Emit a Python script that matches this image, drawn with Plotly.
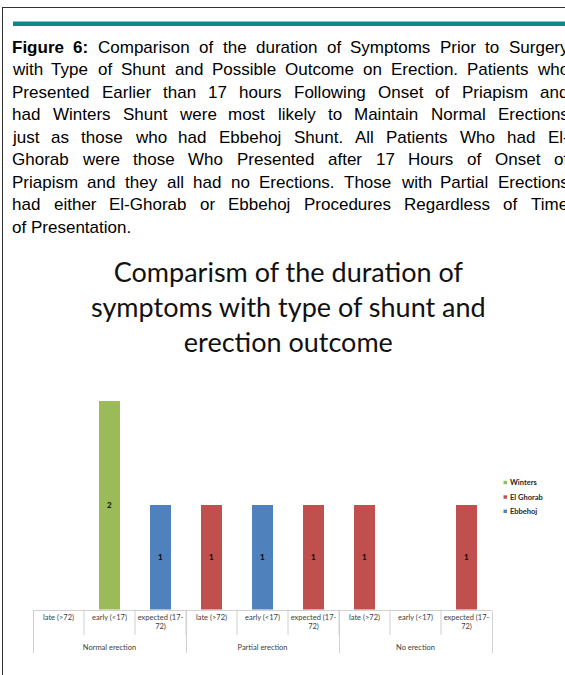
import plotly.graph_objects as go

W, H = 565, 675

# ---------------- data ----------------
outcomes = ["Normal erection"] * 3 + ["Partial erection"] * 3 + ["No erection"] * 3
durations = ["late (>72)", "early (<17)", "expected (17-72)"] * 3
winters = [None, 2, None, None, None, None, None, None, None]
el_ghorab = [None, None, None, 1, None, 1, 1, None, 1]
ebbehoj = [None, None, 1, None, 1, None, None, None, None]
series_names = ["Winters", "El Ghorab", "Ebbehoj"]
series_values = [winters, el_ghorab, ebbehoj]
series_colors = ["#9bbb59", "#c0504d", "#4f81bd"]

chart_title = "Comparism of the duration of<br>symptoms with type of shunt and<br>erection outcome"
caption_lines = [
    "Figure 6: Comparison of the duration of Symptoms Prior to Surgery",
    "with Type of Shunt and Possible Outcome on Erection. Patients who",
    "Presented Earlier than 17 hours Following Onset of Priapism and",
    "had Winters Shunt were most likely to Maintain Normal Erections",
    "just as those who had Ebbehoj Shunt. All Patients Who had El-",
    "Ghorab were those Who Presented after 17 Hours of Onset of",
    "Priapism and they all had no Erections. Those with Partial Erections",
    "had either El-Ghorab or Ebbehoj Procedures Regardless of Time",
    "of Presentation.",
]

# wrapped category labels as shown under the axis (extra blank line = spacing before group row)
duration_labels = [d.replace("(17-", "(17-<br>") + "<br>\u00a0" for d in durations]


def px(x):
    return x / W


def py(y):
    return 1 - y / H


fig = go.Figure()
for name, vals, col in zip(series_names, series_values, series_colors):
    fig.add_trace(go.Bar(
        x=[outcomes, duration_labels], y=vals, name=name,
        marker=dict(color=col, line=dict(width=0)),
        width=0.42,
        texttemplate="<b>%{y}</b>", textposition="inside",
        insidetextanchor="middle", textangle=0, constraintext="none",
        textfont=dict(family="Lato", size=8, color="#000000"),
        showlegend=False,
    ))

# ---------------- caption (justified, Arial metrics) ----------------
ARIAL = {' ': 278, '!': 278, '(': 333, ')': 333, ',': 278, '-': 333, '.': 278, ':': 278}
for d in "0123456789":
    ARIAL[d] = 556
ARIAL.update({'A': 667, 'B': 667, 'C': 722, 'D': 722, 'E': 667, 'F': 611, 'G': 778, 'H': 722,
              'I': 278, 'J': 500, 'K': 667, 'L': 556, 'M': 833, 'N': 722, 'O': 778, 'P': 667,
              'Q': 778, 'R': 722, 'S': 667, 'T': 611, 'U': 722, 'V': 667, 'W': 944, 'X': 667,
              'Y': 667, 'Z': 611,
              'a': 556, 'b': 556, 'c': 500, 'd': 556, 'e': 556, 'f': 278, 'g': 556, 'h': 556,
              'i': 222, 'j': 222, 'k': 500, 'l': 222, 'm': 833, 'n': 556, 'o': 556, 'p': 556,
              'q': 556, 'r': 333, 's': 500, 't': 278, 'u': 556, 'v': 500, 'w': 722, 'x': 500,
              'y': 500, 'z': 500})
ARIAL_BOLD = {'F': 611, 'i': 278, 'g': 611, 'u': 611, 'r': 389, 'e': 556, '6': 556, ':': 333}
FS = 17
LEFT, RIGHT = 12, 568.5
BASE0, LSTEP = 47.2, 22.5

annotations = []
for li, line in enumerate(caption_lines):
    words = line.split(" ")
    bold = [li == 0 and wi < 2 for wi in range(len(words))]
    widths = []
    for wd, b in zip(words, bold):
        tbl = ARIAL_BOLD if b else ARIAL
        widths.append(sum(tbl.get(c, ARIAL.get(c, 556)) for c in wd) * FS / 1000)
    last = li == len(caption_lines) - 1
    gap = ARIAL[' '] * FS / 1000 if last else (RIGHT - LEFT - sum(widths)) / (len(words) - 1)
    x = LEFT
    yc = BASE0 + li * LSTEP
    for wd, b, ww in zip(words, bold, widths):
        annotations.append(dict(
            x=px(x), y=py(yc), xref="paper", yref="paper",
            xanchor="left", yanchor="middle", showarrow=False,
            borderpad=0, borderwidth=0,
            text=f"<b>{wd}</b>" if b else wd,
            font=dict(family="Liberation Sans", size=FS, color="#000000"),
        ))
        x += ww + gap

# chart title
annotations.append(dict(
    x=px(288), y=py(306), xref="paper", yref="paper", xanchor="center", yanchor="middle",
    showarrow=False, text=chart_title, align="center",
    font=dict(family="Lato", size=27, color="#111111"),
))

# legend (text)
leg_y = [482.5, 497, 511.3]
shapes = []
for name, col, yy in zip(series_names, series_colors, leg_y):
    annotations.append(dict(
        x=px(509.5), y=py(yy), xref="paper", yref="paper", xanchor="left", yanchor="middle",
        showarrow=False, text=f"<b>{name}</b>", borderpad=0, borderwidth=0,
        font=dict(family="Lato", size=7.5, color="#262626"),
    ))
    shapes.append(dict(type="rect", xref="paper", yref="paper",
                       x0=px(503.5), x1=px(507), y0=py(yy - 1.7), y1=py(yy + 1.7),
                       fillcolor=col, line=dict(width=0)))

# page border and teal rule
shapes.append(dict(type="line", xref="paper", yref="paper", x0=px(2.5), x1=px(2.5),
                   y0=py(7), y1=py(676), line=dict(color="#333333", width=1)))
shapes.append(dict(type="line", xref="paper", yref="paper", x0=px(2), x1=px(566),
                   y0=py(7.5), y1=py(7.5), line=dict(color="#333333", width=1)))
shapes.append(dict(type="rect", xref="paper", yref="paper", x0=px(13), x1=px(566),
                   y0=py(21.5), y1=py(26), fillcolor="#12878b", line=dict(width=0)))

AXIS_Y = 609.5
# short boundary dividers between categories
n_cat = len(durations)
for i in range(1, n_cat):
    shapes.append(dict(type="line", xref="x domain", yref="paper",
                       x0=i / n_cat, x1=i / n_cat, y0=py(AXIS_Y), y1=py(635),
                       line=dict(color="#d0d0d0", width=1)))

fig.update_layout(
    width=W, height=H,
    margin=dict(l=0, r=0, t=0, b=0),
    paper_bgcolor="white", plot_bgcolor="white",
    barmode="stack", bargap=0.58,
    showlegend=False,
    annotations=annotations,
    shapes=shapes,
    xaxis=dict(
        domain=[px(33), px(492)],
        anchor="y",
        showline=True, linecolor="#d0d0d0", linewidth=1,
        showgrid=False, zeroline=False,
        ticks="", tickson="boundaries", tickangle=0,
        showdividers=True, dividercolor="#d0d0d0", dividerwidth=1,
        tickfont=dict(family="Lato", size=7.5, color="#404040"),
        fixedrange=True,
    ),
    yaxis=dict(
        domain=[py(AXIS_Y), py(401)],
        range=[0, 2], visible=False, fixedrange=True,
    ),
)

fig.write_html(
    "out.html",
    config={"displayModeBar": False},
    post_script="document.body.style.margin='0';document.body.style.padding='0';"
                "document.documentElement.style.overflow='hidden';",
)
